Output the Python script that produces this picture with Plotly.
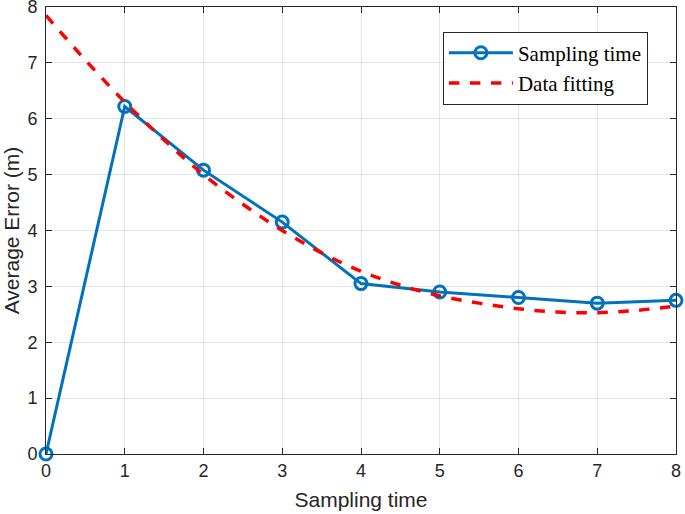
import plotly.graph_objects as go

sample_x = [0, 1, 2, 3, 4, 5, 6, 7, 8]
sample_err = [0.0, 6.22, 5.08, 4.15, 3.05, 2.90, 2.80, 2.70, 2.75]

fit_x = [0, 0.5, 1, 1.5, 2, 2.5, 3, 3.5, 4, 4.5, 5, 5.5, 6, 6.5, 7, 7.5, 8]
fit_err = [7.85, 7.05, 6.30, 5.62, 5.00, 4.47, 4.00, 3.60, 3.27, 3.02, 2.83,
           2.70, 2.60, 2.54, 2.53, 2.57, 2.65]

x_ticks = [0, 1, 2, 3, 4, 5, 6, 7, 8]
y_ticks = [0, 1, 2, 3, 4, 5, 6, 7, 8]

fig = go.Figure()
fig.add_trace(go.Scatter(
    x=sample_x, y=sample_err, mode="lines+markers", name="Sampling time",
    line=dict(color="#0072BD", width=3),
    marker=dict(symbol="circle-open", size=12, color="#0072BD",
                line=dict(width=3, color="#0072BD")),
    cliponaxis=False,
))
fig.add_trace(go.Scatter(
    x=fit_x, y=fit_err, mode="lines", name="Data fitting",
    line=dict(color="#FF0000", width=3.5, dash="dash", shape="spline"),
))

axis_common = dict(
    showline=True, linecolor="#262626", linewidth=1, mirror="ticks",
    ticks="inside", ticklen=6, tickcolor="#262626",
    showgrid=True, gridcolor="#E3E3E3", gridwidth=1, zeroline=False,
    automargin=False, ticklabeloverflow="allow",
    tickfont=dict(family="Liberation Sans, Arial", size=18, color="#262626"),
    title_font=dict(family="Liberation Sans, Arial", size=21, color="#262626"),
)

fig.update_layout(
    width=685, height=514,
    margin=dict(l=46, r=9, t=7, b=60),
    plot_bgcolor="white", paper_bgcolor="white",
    xaxis=dict(range=[0, 8], tickvals=x_ticks, title=dict(text="Sampling time", standoff=12),
               **axis_common),
    yaxis=dict(range=[0, 8], tickvals=y_ticks, ticklabelstandoff=4,
               title=dict(text="Average Error (m)", standoff=8),
               **axis_common),
    legend=dict(
        x=0.63, y=0.945, xanchor="left", yanchor="top",
        bgcolor="white", bordercolor="#262626", borderwidth=1,
        font=dict(family="Liberation Serif, Times New Roman", size=21, color="black"),
        tracegroupgap=0, itemwidth=64,
    ),
    showlegend=True,
)

fig.write_html("out.html", config={"displayModeBar": False},
               post_script="document.body.style.margin='0px';")
